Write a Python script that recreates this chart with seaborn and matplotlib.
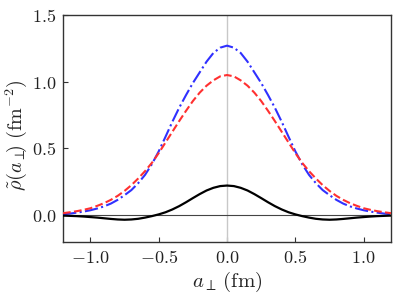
import numpy as np
import pandas as pd
import matplotlib
matplotlib.use("Agg")
import matplotlib.pyplot as plt
import seaborn as sns
from matplotlib.ticker import FuncFormatter

# ── Data (x >= 0; curves are symmetric) ─────────────────────────────────────
a_half = [0.00, 0.05, 0.10, 0.15, 0.20, 0.25, 0.30, 0.35, 0.40, 0.45, 0.50,
          0.55, 0.60, 0.65, 0.70, 0.75, 0.80, 0.85, 0.90, 0.95, 1.00, 1.05,
          1.10, 1.15, 1.20]
blue_half = [1.270, 1.255, 1.215, 1.150, 1.070, 0.990, 0.900, 0.805, 0.700,
             0.588, 0.478, 0.382, 0.302, 0.240, 0.188, 0.150, 0.115, 0.087,
             0.066, 0.050, 0.037, 0.027, 0.019, 0.012, 0.007]
red_half = [1.050, 1.040, 1.010, 0.970, 0.918, 0.855, 0.782, 0.705, 0.625,
            0.545, 0.465, 0.392, 0.330, 0.275, 0.225, 0.182, 0.145, 0.115,
            0.090, 0.070, 0.052, 0.040, 0.030, 0.022, 0.015]
black_half = [0.222, 0.218, 0.205, 0.185, 0.158, 0.128, 0.097, 0.068, 0.043,
              0.022, 0.006, -0.007, -0.018, -0.027, -0.032, -0.034, -0.032,
              -0.028, -0.023, -0.018, -0.014, -0.010, -0.007, -0.005, -0.003]

x_ticks = [-1.0, -0.5, 0.0, 0.5, 1.0]
y_ticks = [0.0, 0.5, 1.0, 1.5]


def mirror(vals, neg=False):
    v = np.asarray(vals)
    left = -v[:0:-1] if neg else v[:0:-1]
    return np.concatenate([left, v])


a = mirror(a_half, neg=True)
blue = mirror(blue_half)
red = mirror(red_half)
black = mirror(black_half)

# ── Style ────────────────────────────────────────────────────────────────────
sns.set_theme(style="ticks")
plt.rcParams["font.family"] = ["DejaVu Serif"]
plt.rcParams["mathtext.fontset"] = "cm"

fig, ax = plt.subplots(figsize=(3.99, 2.99), dpi=100)
fig.subplots_adjust(left=0.158, right=0.98, bottom=0.191, top=0.95)

ax.axvline(0, color="#c8c8c8", lw=1.0, zorder=1)
ax.axhline(0, color="#444444", lw=0.8, zorder=1)

sns.lineplot(x=a, y=blue, ax=ax, color="#3030ff", lw=1.5, linestyle="-.",
             sort=False, estimator=None, zorder=3)
sns.lineplot(x=a, y=red, ax=ax, color="#ff3030", lw=1.5, linestyle="--",
             sort=False, estimator=None, zorder=3)
sns.lineplot(x=a, y=black, ax=ax, color="black", lw=1.6, linestyle="-",
             sort=False, estimator=None, zorder=4)

ax.set_xlim(-1.2, 1.2)
ax.set_ylim(-0.2, 1.5)
ax.set_xticks(x_ticks)
ax.set_yticks(y_ticks)
fmt = FuncFormatter(lambda v, p: f"${v:.1f}$")
ax.xaxis.set_major_formatter(fmt)
ax.yaxis.set_major_formatter(fmt)
ax.tick_params(direction="in", length=3.5, width=0.8, labelsize=13,
               colors="#333333", labelcolor="#222222", pad=5)

for sp in ax.spines.values():
    sp.set_color("#333333")
    sp.set_linewidth(1.0)

ax.set_xlabel(r"$a_\perp\!\ (\mathrm{fm})$", fontsize=15, labelpad=2)
ax.set_ylabel(r"$\tilde{\rho}(a_\perp\!\!)\ (\mathrm{fm}^{-2})$",
              fontsize=14.5)
ax.yaxis.set_label_coords(-0.105, 0.47)

fig.savefig("out.png", dpi=100)
